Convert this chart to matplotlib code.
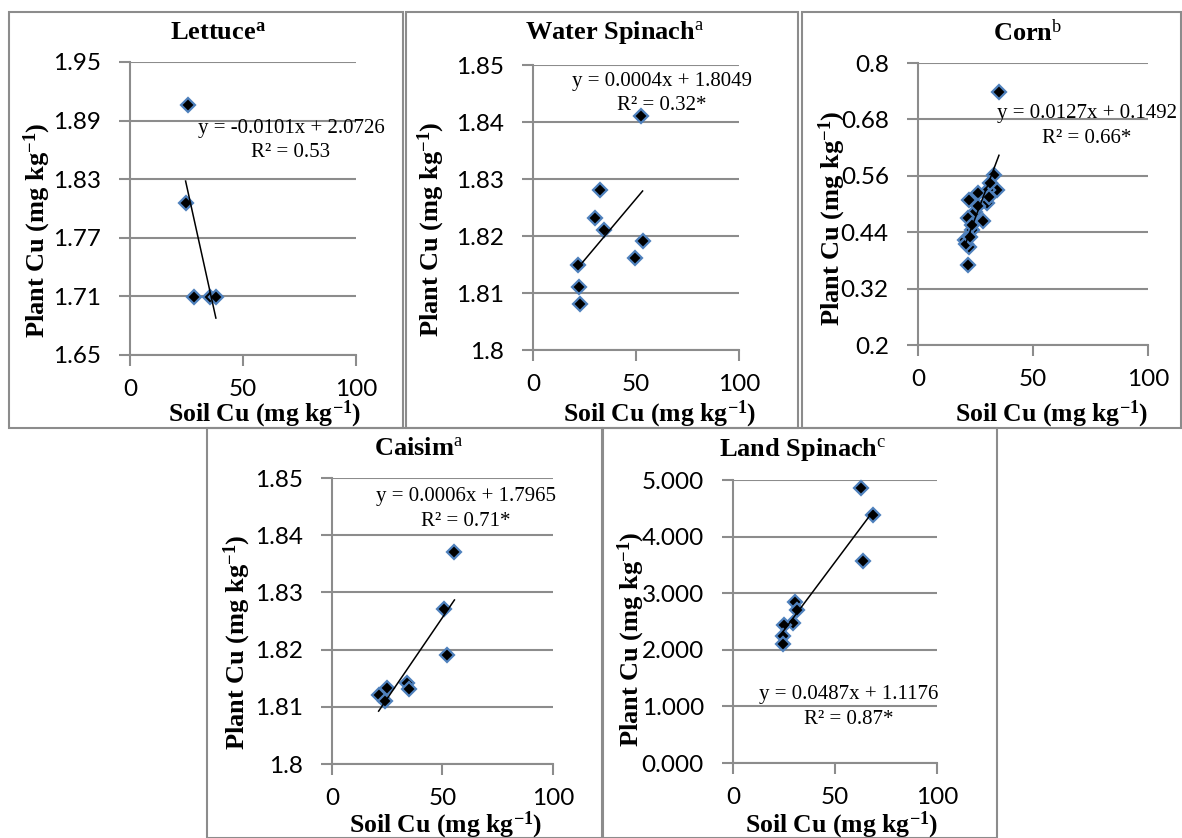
import numpy as np
import matplotlib.pyplot as plt
from matplotlib.patches import Rectangle

plt.rcParams['mathtext.fontset'] = 'custom'
plt.rcParams['mathtext.rm'] = 'Liberation Serif'
plt.rcParams['mathtext.bf'] = 'Liberation Serif:bold'
plt.rcParams['mathtext.it'] = 'Liberation Serif:italic'

W, H = 1182, 838

# ---------------- data ----------------
lettuce_x = [25.5, 24.6, 28.3, 35.4, 38.0]
lettuce_y = [1.906, 1.806, 1.709, 1.709, 1.709]

water_x = [52.4, 32.7, 30.0, 34.4, 53.2, 49.6, 21.9, 22.4, 23.0]
water_y = [1.8411, 1.8281, 1.8231, 1.8211, 1.8191, 1.8161, 1.8150, 1.8110, 1.8081]

corn_x = [35.2, 33.1, 34.4, 30.5, 26.2, 22.2, 29.8, 24.7, 28.1, 21.8, 23.3,
          20.4, 22.2, 21.8, 31.3, 31.0, 26.0, 23.5, 21.0, 22.8]
corn_y = [0.738, 0.562, 0.530, 0.530, 0.523, 0.509, 0.502, 0.484, 0.463, 0.470, 0.445,
          0.424, 0.409, 0.370, 0.544, 0.515, 0.495, 0.455, 0.415, 0.430]

caisim_x = [55.4, 50.9, 51.9, 34.1, 34.8, 24.9, 21.1, 24.1]
caisim_y = [1.8370, 1.8271, 1.8190, 1.8142, 1.8131, 1.8132, 1.8120, 1.8111]

land_x = [62.8, 68.7, 63.8, 30.5, 31.6, 29.2, 25.1, 24.3, 24.4]
land_y = [4.865, 4.382, 3.571, 2.853, 2.706, 2.471, 2.441, 2.235, 2.100]

names = ['Lettuce', 'Water Spinach', 'Corn', 'Caisim', 'Land Spinach']
supers = ['a', 'a', 'b', 'a', 'c']
equations = ['y = -0.0101x + 2.0726\nR² = 0.53',
             'y = 0.0004x + 1.8049\nR² = 0.32*',
             'y = 0.0127x + 0.1492\nR² = 0.66*',
             'y = 0.0006x + 1.7965\nR² = 0.71*',
             'y = 0.0487x + 1.1176\nR² = 0.87*']
ytick_labels = [['1.65', '1.71', '1.77', '1.83', '1.89', '1.95'],
                ['1.8', '1.81', '1.82', '1.83', '1.84', '1.85'],
                ['0.2', '0.32', '0.44', '0.56', '0.68', '0.8'],
                ['1.8', '1.81', '1.82', '1.83', '1.84', '1.85'],
                ['0.000', '1.000', '2.000', '3.000', '4.000', '5.000']]
xticks = [0, 50, 100]

xs = [lettuce_x, water_x, corn_x, caisim_x, land_x]
ys = [lettuce_y, water_y, corn_y, caisim_y, land_y]

# ---------------- layout (pixels) ----------------
boxes = [(9, 12, 403, 428), (406, 12, 798, 428), (802, 12, 1181, 428),
         (207, 428, 602, 838), (603, 428, 997, 838)]
axes_px = [(130, 62, 356, 355), (533, 65, 739, 350), (918, 63, 1148, 345),
           (332, 478, 553, 764), (733, 480, 937, 763)]
title_px = [(218, 33), (615, 33), (1028, 33), (419, 448), (803, 449)]
ylab_px = [(37, 230), (431, 229), (832, 218), (237, 642), (631, 639)]
xlab_px = [(265, 414), (660, 414), (1052, 414), (446, 825), (842, 825)]
eq_pos = [(0.712, 0.732), (0.626, 0.90), (0.735, 0.777), (0.606, 0.892), (0.569, 0.198)]

grey = '#8c8c8c'
fig = plt.figure(figsize=(W / 100, H / 100), dpi=100)


def fx(px):
    return px / W


def fy(py):
    return 1 - py / H


for (l, t, r, b) in boxes:
    fig.add_artist(Rectangle((fx(l), fy(b)), fx(r - l), (b - t) / H,
                             transform=fig.transFigure, fill=False,
                             edgecolor=grey, lw=1.5))

for i in range(5):
    l, t, r, b = axes_px[i]
    ax = fig.add_axes([fx(l), fy(b), fx(r - l), (b - t) / H])
    labels = ytick_labels[i]
    yt = [float(v) for v in labels]
    ax.set_xlim(0, 100)
    ax.set_ylim(yt[0], yt[-1])
    ax.set_yticks(yt)
    ax.set_yticklabels(labels)
    ax.set_xticks(xticks)
    ax.yaxis.grid(True, color=grey, lw=1.5)
    ax.set_axisbelow(True)
    for s in ['top', 'right']:
        ax.spines[s].set_visible(False)
    for s in ['left', 'bottom']:
        ax.spines[s].set_color(grey)
        ax.spines[s].set_linewidth(1.5)
    ax.tick_params(length=8, width=1.5, color=grey, labelsize=17.5)
    ax.tick_params(axis='y', pad=13)
    ax.tick_params(axis='x', pad=9)
    for lab in ax.get_xticklabels() + ax.get_yticklabels():
        lab.set_family('Lato')

    x = np.array(xs[i])
    y = np.array(ys[i])
    ax.plot(x, y, 'D', ms=6.8, mfc='black', mec='#4f81bd', mew=1.6,
            clip_on=False, zorder=3)
    k, c = np.polyfit(x, y, 1)
    xl = np.array([x.min(), x.max()])
    ax.plot(xl, k * xl + c, color='black', lw=1.1, zorder=4)

    ax.text(eq_pos[i][0], eq_pos[i][1], equations[i], transform=ax.transAxes,
            ha='center', va='center', multialignment='center',
            family='Liberation Serif', fontsize=15, linespacing=1.4)

    sup = r'$^{\mathbf{%s}}$' % supers[i] if i == 0 else r'$^{\mathrm{%s}}$' % supers[i]
    fig.text(fx(title_px[i][0]), fy(title_px[i][1]), names[i] + sup,
             ha='center', va='center', family='Liberation Serif',
             weight='bold', fontsize=19)
    fig.text(fx(ylab_px[i][0]), fy(ylab_px[i][1]), r'Plant Cu (mg kg$^{\mathbf{-1}}$)',
             ha='center', va='center', rotation=90, family='Liberation Serif',
             weight='bold', fontsize=19)
    fig.text(fx(xlab_px[i][0]), fy(xlab_px[i][1]), r'Soil Cu (mg kg$^{\mathbf{-1}}$)',
             ha='center', va='center', family='Liberation Serif',
             weight='bold', fontsize=18.5)

fig.savefig('out.png', dpi=100)
